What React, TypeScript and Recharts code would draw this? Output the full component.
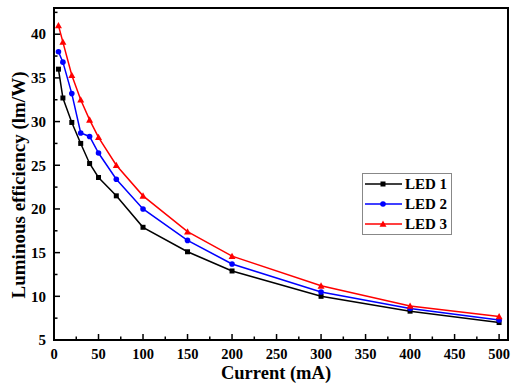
import React from 'react';
import { LineChart, Line, XAxis, YAxis, ReferenceArea } from 'recharts';

const currents = [5, 10, 20, 30, 40, 50, 70, 100, 150, 200, 300, 400, 500];
const led1 = [36.0, 32.7, 29.9, 27.5, 25.2, 23.6, 21.5, 17.9, 15.1, 12.9, 10.0, 8.3, 7.0];
const led2 = [38.0, 36.8, 33.2, 28.7, 28.3, 26.4, 23.4, 20.0, 16.4, 13.7, 10.5, 8.6, 7.3];
const led3 = [41.0, 39.1, 35.3, 32.5, 30.2, 28.2, 25.0, 21.5, 17.4, 14.6, 11.2, 8.9, 7.7];
const xTicks = [0, 25, 50, 75, 100, 125, 150, 175, 200, 225, 250, 275, 300, 325, 350, 375, 400, 425, 450, 475, 500];
const yTicks = [5, 7.5, 10, 12.5, 15, 17.5, 20, 22.5, 25, 27.5, 30, 32.5, 35, 37.5, 40, 42.5];
const seriesNames = ['LED 1', 'LED 2', 'LED 3'];
const seriesColors = ['#000000', '#0000ff', '#ff0000'];

const data = currents.map((c, i) => ({ current: c, led1: led1[i], led2: led2[i], led3: led3[i] }));

const FONT = '"Liberation Serif", "Times New Roman", serif';

const XTick = (props: any) => {
  const { x, y, payload } = props;
  const v = payload.value;
  const major = v % 50 === 0;
  return (
    <g>
      <line x1={x} x2={x} y1={y} y2={y - (major ? 6 : 3.5)} stroke="#000" strokeWidth={1.5} />
      {major && (
        <text x={x} y={y + 19} textAnchor="middle" fontFamily={FONT} fontWeight="bold" fontSize={14.5} fill="#000">
          {v}
        </text>
      )}
    </g>
  );
};

const YTick = (props: any) => {
  const { x, y, payload } = props;
  const v = payload.value;
  const major = v % 5 === 0;
  return (
    <g>
      <line x1={x} x2={x + (major ? 6 : 3.5)} y1={y} y2={y} stroke="#000" strokeWidth={1.5} />
      {major && (
        <text x={x - 8} y={y} dy="0.35em" textAnchor="end" fontFamily={FONT} fontWeight="bold" fontSize={15} fill="#000">
          {v}
        </text>
      )}
    </g>
  );
};

const Square = (props: any) => {
  const { cx, cy, stroke } = props;
  if (cx == null || cy == null) return null;
  return <rect x={cx - 2.5} y={cy - 2.5} width={5} height={5} fill={stroke} />;
};
const Circle = (props: any) => {
  const { cx, cy, stroke } = props;
  if (cx == null || cy == null) return null;
  return <circle cx={cx} cy={cy} r={2.8} fill={stroke} />;
};
const Tri = (props: any) => {
  const { cx, cy, stroke } = props;
  if (cx == null || cy == null) return null;
  return <polygon points={`${cx},${cy - 3.5} ${cx + 3.5},${cy + 2.8} ${cx - 3.5},${cy + 2.8}`} fill={stroke} />;
};

const markerFor = (i: number, cx: number, cy: number) => {
  const c = seriesColors[i];
  if (i === 0) return <rect x={cx - 2.5} y={cy - 2.5} width={5} height={5} fill={c} />;
  if (i === 1) return <circle cx={cx} cy={cy} r={2.8} fill={c} />;
  return <polygon points={`${cx},${cy - 3.5} ${cx + 3.5},${cy + 2.8} ${cx - 3.5},${cy + 2.8}`} fill={c} />;
};

const LegendBox = () => (
  <div
    style={{
      position: 'absolute',
      left: 362,
      top: 173,
      width: 90,
      height: 62,
      border: '1px solid #888',
      background: '#fff',
      boxSizing: 'border-box',
    }}
  >
    {seriesNames.map((n, i) => (
      <div key={n} style={{ display: 'flex', alignItems: 'center', height: 20 }}>
        <svg width={40} height={20} style={{ display: 'block' }}>
          <line x1={2} x2={39} y1={10} y2={10} stroke={seriesColors[i]} strokeWidth={1.5} />
          {markerFor(i, 20, 10)}
        </svg>
        <span style={{ fontFamily: FONT, fontWeight: 'bold', fontSize: 15, color: '#000', marginLeft: 2, lineHeight: '20px' }}>{n}</span>
      </div>
    ))}
  </div>
);

export default function App() {
  return (
    <div style={{ position: 'absolute', left: 0, top: 0, width: 511, height: 383 }}>
      <LineChart width={511} height={383} data={data} margin={{ top: 8, right: 3, bottom: 0, left: 0 }}>
        <XAxis
          dataKey="current"
          type="number"
          domain={[0, 510]}
          ticks={xTicks}
          interval={0}
          tick={<XTick />}
          tickLine={false}
          tickSize={0}
          tickMargin={0}
          axisLine={{ stroke: '#000', strokeWidth: 2 }}
          height={43}
        />
        <YAxis
          type="number"
          domain={[5, 43]}
          ticks={yTicks}
          interval={0}
          tick={<YTick />}
          tickLine={false}
          tickSize={0}
          tickMargin={0}
          axisLine={{ stroke: '#000', strokeWidth: 2 }}
          width={54}
        />
        <ReferenceArea x1={0} x2={510} y1={5} y2={43} fill="none" stroke="#000" strokeWidth={2} />
        <Line dataKey="led1" name="LED 1" stroke={seriesColors[0]} strokeWidth={1.5} dot={<Square />} isAnimationActive={false} />
        <Line dataKey="led2" name="LED 2" stroke={seriesColors[1]} strokeWidth={1.5} dot={<Circle />} isAnimationActive={false} />
        <Line dataKey="led3" name="LED 3" stroke={seriesColors[2]} strokeWidth={1.5} dot={<Tri />} isAnimationActive={false} />
        <text x={18} y={185} transform="rotate(-90 18 185)" textAnchor="middle" dominantBaseline="central" fontFamily={FONT} fontWeight="bold" fontSize={19} fill="#000">
          Luminous efficiency (lm/W)
        </text>
        <text x={276} y={379} textAnchor="middle" fontFamily={FONT} fontWeight="bold" fontSize={18.5} fill="#000">
          Current (mA)
        </text>
      </LineChart>
      <LegendBox />
    </div>
  );
}
